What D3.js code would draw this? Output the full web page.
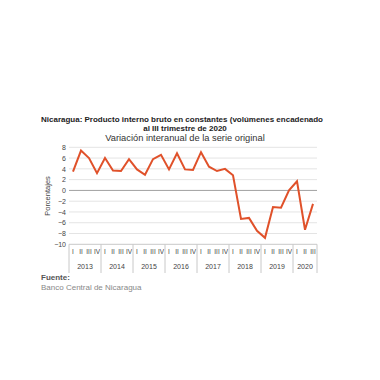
<!DOCTYPE html>
<html><head><meta charset="utf-8">
<script src="https://cdn.jsdelivr.net/npm/d3@7"></script>
<style>body{margin:0;background:#fff}svg{display:block}</style>
</head><body>
<script>
const years = ["2013","2014","2015","2016","2017","2018","2019","2020"];
const quarterNames = ["I","II","III","IV"];
const quartersPerYear = [4,4,4,4,4,4,4,3];
const values = [3.5,7.4,6.0,3.2, 6.0,3.7,3.6,5.8, 3.9,2.9,5.8,6.6, 3.9,6.9,3.9,3.8, 7.1,4.4,3.6,4.0, 2.8,-5.3,-5.1,-7.5, -8.8,-3.1,-3.2,0.0, 1.7,-7.3,-2.5];
const yTicks = [8,6,4,2,0,-2,-4,-6,-8,-10];

const W=380,H=380;
const svg=d3.select("body").append("svg").attr("width",W).attr("height",H);
const font="Liberation Sans, Arial, sans-serif";

const periods=[];
years.forEach((y,yi)=>{for(let q=0;q<quartersPerYear[yi];q++)periods.push({year:y,q:quarterNames[q],id:y+"-"+q});});
const data=periods.map((p,i)=>({...p,v:values[i]}));

const x=d3.scaleBand().domain(periods.map(p=>p.id)).range([69,317]).padding(0);
const y=d3.scaleLinear().domain([-10,8]).range([244.3,147.3]);

// title
const t1=svg.append("text").attr("x",41).attr("y",122).attr("font-family",font).attr("font-size",8).attr("font-weight","bold").attr("fill","#222")
  .text("Nicaragua: Producto interno bruto en constantes (volúmenes encadenado");
svg.append("text").attr("x",185).attr("y",131).attr("text-anchor","middle").attr("font-family",font).attr("font-size",8).attr("font-weight","bold").attr("fill","#222").text("al III trimestre de 2020");
svg.append("text").attr("x",185).attr("y",141).attr("text-anchor","middle").attr("font-family",font).attr("font-size",9.3).attr("fill","#333").text("Variación interanual de la serie original");
// fit title line to reference width
const tw=t1.node().getComputedTextLength();
if(tw>282) t1.attr("textLength",282).attr("lengthAdjust","spacingAndGlyphs");

// gridlines
svg.append("g").selectAll("line").data(yTicks.filter(t=>t!==-10)).join("line")
  .attr("x1",69).attr("x2",317).attr("y1",d=>y(d)).attr("y2",d=>y(d))
  .attr("stroke",d=>d===0?"#a0a0a0":"#e4e4e4").attr("stroke-width",1);
svg.append("line").attr("x1",69).attr("x2",317).attr("y1",y(-10)).attr("y2",y(-10)).attr("stroke","#c8c8c8");

// y axis
const ya=svg.append("g").attr("transform","translate(69,0)").call(d3.axisLeft(y).tickValues(yTicks).tickSize(0).tickPadding(3));
ya.select(".domain").remove();
ya.selectAll("text").attr("font-family",font).attr("font-size",7).attr("fill","#444");
svg.append("text").attr("transform","translate(50,196) rotate(-90)").attr("text-anchor","middle").attr("font-family",font).attr("font-size",7.5).attr("fill","#444").text("Porcentajes");

// quarter labels
const xa=svg.append("g").attr("transform",`translate(0,${y(-10)})`).call(d3.axisBottom(x).tickSize(0).tickPadding(5).tickFormat(id=>periods.find(p=>p.id===id).q));
xa.select(".domain").remove();
xa.selectAll("text").attr("font-family",font).attr("font-size",6.5).attr("fill","#444");

// year separators and labels
let start=0;
const yearInfo=years.map((yr,yi)=>{const s=start;start+=quartersPerYear[yi];return{year:yr,s,e:start};});
const bw=x.bandwidth();
const sep=[yearInfo[0].s].concat(yearInfo.map(d=>d.e));
const sepX=i=>i>=periods.length?x(periods[periods.length-1].id)+bw:x(periods[i].id);
svg.append("g").selectAll("line").data(sep).join("line")
  .attr("x1",sepX).attr("x2",sepX)
  .attr("y1",y(-10)).attr("y2",273).attr("stroke","#c8c8c8");
svg.append("g").selectAll("text").data(yearInfo).join("text")
  .attr("x",d=>(x(periods[d.s].id)+x(periods[d.e-1].id)+bw)/2).attr("y",268.5).attr("text-anchor","middle")
  .attr("font-family",font).attr("font-size",7).attr("fill","#444").text(d=>d.year);

// line
svg.append("path").datum(data).attr("fill","none").attr("stroke","#e0512a").attr("stroke-width",2).attr("stroke-linejoin","miter")
  .attr("d",d3.line().x(d=>x(d.id)+bw/2).y(d=>y(d.v)));

// source
svg.append("text").attr("x",41).attr("y",280).attr("font-family",font).attr("font-size",8).attr("font-weight","bold").attr("fill","#555").text("Fuente:");
svg.append("text").attr("x",41).attr("y",290).attr("font-family",font).attr("font-size",8).attr("fill","#888").text("Banco Central de Nicaragua");
</script>
</body></html>
